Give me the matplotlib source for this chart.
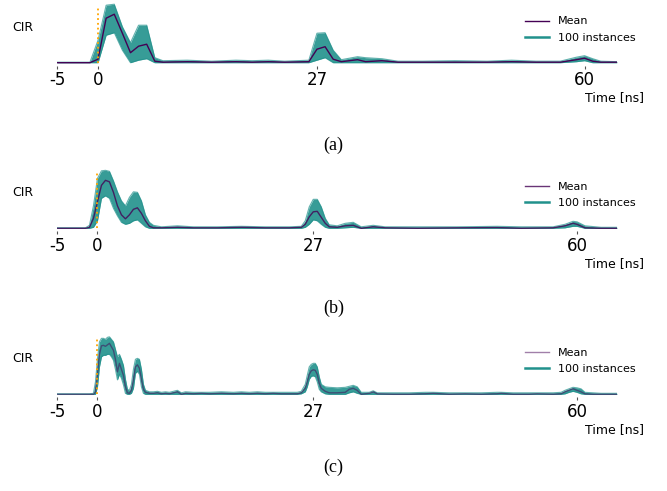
import numpy as np
import matplotlib
matplotlib.use("Agg")
import matplotlib.pyplot as plt

# CIR traces (arbitrary units, baseline = 0)
# (a) coarse 1 ns sampling
t_a = [-5, -1, 0, 1, 2, 3, 4, 5, 6, 7, 8, 11, 14, 17, 19, 21, 23, 26, 27, 28,
       29, 30, 32, 33, 35, 37, 40, 44, 48, 51, 54, 57, 59, 60, 61, 62, 64]
mean_a = [0, 0, 0.07, 0.89, 0.97, 0.59, 0.20, 0.33, 0.37, 0.03, 0.01, 0.02, 0.01, 0.02, 0.01, 0.02, 0.01, 0.02, 0.27, 0.32,
          0.07, 0.02, 0.06, 0.02, 0.04, 0.01, 0.01, 0.01, 0.01, 0.02, 0.01, 0.01, 0.06, 0.09, 0.03, 0.01, 0.01]
hi_a = [0.01, 0.01, 0.45, 1.15, 1.17, 0.72, 0.40, 0.75, 0.75, 0.10, 0.04, 0.05, 0.03, 0.05, 0.04, 0.05, 0.03, 0.05, 0.59, 0.60,
        0.25, 0.06, 0.12, 0.10, 0.08, 0.03, 0.03, 0.04, 0.03, 0.05, 0.03, 0.03, 0.11, 0.14, 0.08, 0.03, 0.02]
lo_a = [0, 0, 0, 0.55, 0.60, 0.25, 0, 0.05, 0.08, 0, 0, 0, 0, 0, 0, 0, 0, 0, 0.05, 0.10,
        0, 0, 0, 0, 0, 0, 0, 0, 0, 0, 0, 0, 0.02, 0.04, 0, 0, 0]

# (b) smoother
t_b = [-5, -1.5, -1, -0.5, 0, 0.5, 1, 1.5, 2, 2.5, 3, 3.5, 4, 4.5, 5, 5.5, 6, 6.5, 7, 8,
       10, 12, 15, 18, 21, 24, 25.5, 26, 26.5, 27, 27.5, 28, 28.5, 29, 30, 31, 32, 33, 34.5, 36,
       40, 45, 50, 53, 57, 58.5, 59.5, 60, 61, 63, 65]
mean_b = [0, 0, 0.02, 0.2, 0.53, 0.86, 0.96, 0.93, 0.72, 0.45, 0.27, 0.19, 0.27, 0.38, 0.41, 0.30, 0.15, 0.04, 0.01, 0.01,
          0.02, 0.01, 0.01, 0.02, 0.01, 0.01, 0.02, 0.08, 0.23, 0.33, 0.34, 0.22, 0.10, 0.03, 0.02, 0.05, 0.06, 0.0, 0.03, 0.01,
          0.0, 0.01, 0.015, 0.0, 0.01, 0.05, 0.10, 0.08, 0.01, 0.0, 0.0]
hi_b = [0.01, 0.01, 0.06, 0.45, 1.0, 1.15, 1.16, 1.14, 0.95, 0.73, 0.55, 0.45, 0.62, 0.73, 0.72, 0.55, 0.27, 0.12, 0.06, 0.03,
        0.05, 0.03, 0.03, 0.04, 0.03, 0.03, 0.04, 0.15, 0.43, 0.58, 0.58, 0.43, 0.20, 0.07, 0.05, 0.10, 0.12, 0.03, 0.06, 0.03,
        0.03, 0.03, 0.04, 0.03, 0.03, 0.08, 0.14, 0.13, 0.05, 0.02, 0.02]
lo_b = [0, 0, 0, 0.02, 0.15, 0.6, 0.65, 0.6, 0.4, 0.25, 0.12, 0.08, 0.10, 0.15, 0.17, 0.10, 0.03, 0, 0, 0,
        0, 0, 0, 0, 0, 0, 0, 0.02, 0.08, 0.17, 0.15, 0.08, 0.02, 0, 0, 0.01, 0.02, 0, 0, 0,
        0, 0, 0, 0, 0, 0.01, 0.04, 0.04, 0, 0, 0]

# (c) fine sampling
t_c = [-5, -1, -0.5, -0.25, 0, 0.25, 0.5, 0.75, 1.0, 1.25,
       1.5, 1.75, 2.0, 2.25, 2.5, 2.75, 3.0, 3.25, 3.5, 3.75,
       4.0, 4.25, 4.5, 4.75, 5.0, 5.25, 5.5, 5.75, 6.0, 6.5,
       7, 7.5, 8, 8.5, 9, 10, 10.5, 11, 12, 13,
       14, 15.5, 17, 18, 19, 20, 21, 22, 23, 24,
       25, 25.5, 26, 26.25, 26.5, 26.75, 27, 27.25, 27.5, 27.75,
       28, 28.5, 29, 30, 31, 31.5, 32, 32.5, 33, 34,
       34.5, 35, 37, 39, 41, 42, 44, 46, 48, 50,
       50.5, 52, 54, 55, 57, 58, 58.5, 59, 59.5, 60,
       60.5, 61, 62, 63, 65]
mean_c = [0, 0, 0, 0.05, 0.40, 0.80, 0.97, 0.98, 0.96, 0.99,
          1.02, 0.95, 0.88, 0.70, 0.45, 0.62, 0.50, 0.38, 0.15, 0.03,
          0.02, 0.08, 0.29, 0.55, 0.59, 0.52, 0.30, 0.10, 0.04, 0.02,
          0.02, 0.03, 0.01, 0.02, 0.01, 0.05, 0.0, 0.02, 0.01, 0.02,
          0.01, 0.02, 0.01, 0.02, 0.01, 0.02, 0.01, 0.02, 0.01, 0.01,
          0.01, 0.03, 0.12, 0.25, 0.40, 0.47, 0.49, 0.48, 0.40, 0.22,
          0.12, 0.06, 0.03, 0.03, 0.04, 0.10, 0.12, 0.08, 0.0, 0.02,
          0.05, 0.01, 0.0, 0.0, 0.01, 0.02, 0.0, 0.01, 0.0, 0.01,
          0.02, 0.0, 0.0, 0.01, 0.0, 0.01, 0.05, 0.08, 0.11, 0.08,
          0.05, 0.01, 0.0, 0.0, 0.0]
hi_c = [0.01, 0.01, 0.02, 0.25, 0.70, 1.05, 1.12, 1.12, 1.10, 1.14,
        1.15, 1.10, 1.05, 0.90, 0.75, 0.80, 0.70, 0.58, 0.30, 0.10,
        0.08, 0.20, 0.50, 0.70, 0.72, 0.70, 0.50, 0.20, 0.08, 0.05,
        0.05, 0.06, 0.04, 0.05, 0.04, 0.08, 0.03, 0.05, 0.04, 0.04,
        0.04, 0.05, 0.04, 0.05, 0.04, 0.05, 0.04, 0.04, 0.04, 0.04,
        0.04, 0.06, 0.20, 0.38, 0.55, 0.60, 0.62, 0.62, 0.55, 0.35,
        0.20, 0.15, 0.14, 0.13, 0.14, 0.16, 0.18, 0.15, 0.04, 0.04,
        0.07, 0.03, 0.03, 0.03, 0.04, 0.04, 0.03, 0.03, 0.03, 0.04,
        0.04, 0.03, 0.03, 0.03, 0.03, 0.04, 0.08, 0.11, 0.14, 0.13,
        0.11, 0.04, 0.03, 0.02, 0.02]
lo_c = [0, 0, 0, 0, 0.15, 0.55, 0.75, 0.78, 0.78, 0.80,
        0.80, 0.75, 0.68, 0.50, 0.29, 0.40, 0.32, 0.19, 0.02, 0,
        0, 0.02, 0.12, 0.42, 0.46, 0.40, 0.15, 0.02, 0, 0,
        0, 0, 0, 0, 0, 0, 0, 0, 0, 0,
        0, 0, 0, 0, 0, 0, 0, 0, 0, 0,
        0, 0.01, 0.05, 0.15, 0.30, 0.36, 0.37, 0.35, 0.25, 0.10,
        0.05, 0.01, 0, 0, 0, 0.03, 0.05, 0.02, 0, 0,
        0, 0, 0, 0, 0, 0, 0, 0, 0, 0,
        0, 0, 0, 0, 0, 0, 0.01, 0.04, 0.06, 0.04,
        0.01, 0, 0, 0, 0]

xticks = [-5, 0, 27, 60]
captions = ["(a)", "(b)", "(c)"]
mean_alpha = [1.0, 0.8, 0.5]

teal = "#21918c"
purple = "#440154"

fig = plt.figure(figsize=(6.67, 4.91), dpi=100)
# axes boxes in figure fraction: left, bottom, width, height
boxes = [[0.0862, 0.8662, 0.8388, 0.1303],
         [0.0862, 0.5289, 0.8388, 0.1303],
         [0.0862, 0.1908, 0.8388, 0.1303]]
cap_y = [0.703, 0.373, 0.049]

panels = [(t_a, mean_a, lo_a, hi_a), (t_b, mean_b, lo_b, hi_b), (t_c, mean_c, lo_c, hi_c)]
for i, (t, m, lo, hi) in enumerate(panels):
    assert len(t) == len(m) == len(lo) == len(hi)
    ax = fig.add_axes(boxes[i])
    ax.fill_between(t, lo, hi, color=teal, alpha=0.9, lw=0)
    ax.plot(t, hi, color=teal, lw=0.8, alpha=0.7)
    ax.plot(t, lo, color=teal, lw=0.8, alpha=0.7)
    ax.plot([], [], color=purple, lw=1.0, alpha=mean_alpha[i], label="Mean")
    ax.plot([], [], color=teal, lw=1.8, label="100 instances")
    ax.plot(t, m, color=purple, lw=1.0, alpha=mean_alpha[i])
    ax.vlines(0, 0, 1.1, colors="orange", linestyles=":", lw=1.3, zorder=5)

    ax.set_xlim(t[0], t[-1])
    ax.set_ylim(-0.06, 1.22)
    for s in ax.spines.values():
        s.set_visible(False)
    ax.set_yticks([])
    ax.set_xticks(xticks)
    ax.set_xticklabels([str(v) for v in xticks])
    ax.tick_params(axis="x", labelsize=12, length=2.5, pad=1.5, color="#555555")

    ax.set_ylabel("CIR", rotation=0, fontsize=9, ha="center", va="center")
    ax.yaxis.set_label_coords(-0.062, 0.6)
    ax.set_xlabel("Time [ns]", fontsize=9, ha="center", va="center")
    ax.xaxis.set_label_coords(0.995, -0.5)

    ax.legend(loc="upper left", bbox_to_anchor=(0.835, 0.77), frameon=False,
              fontsize=8, handlelength=2.2, handletextpad=0.8,
              borderpad=0, borderaxespad=0, labelspacing=0.55)

    fig.text(0.5, cap_y[i], captions[i], fontsize=13, family="Liberation Serif",
             ha="center", va="center")

fig.savefig("out.png", dpi=100)
